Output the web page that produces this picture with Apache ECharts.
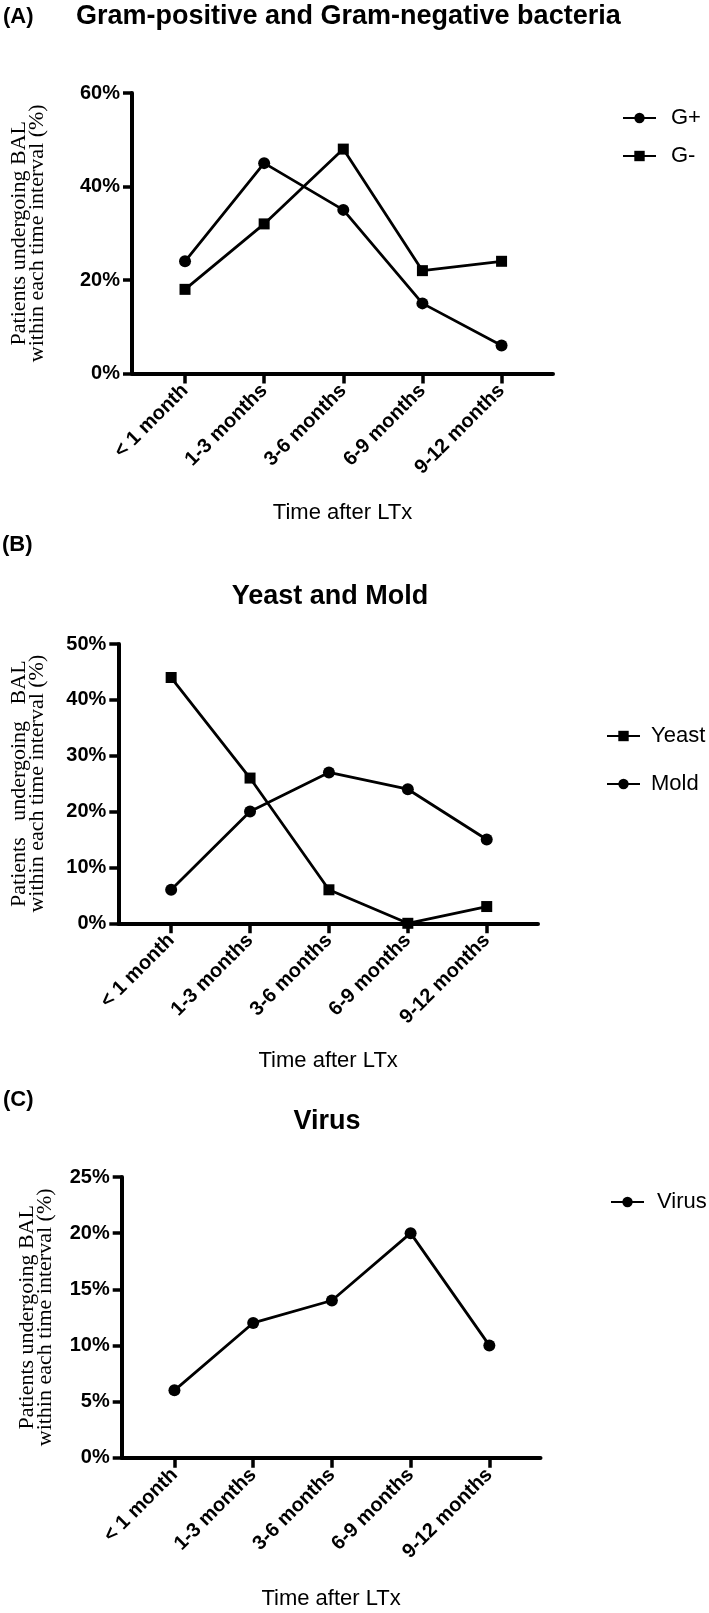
<!DOCTYPE html>
<html>
<head>
<meta charset="utf-8">
<script src="https://cdn.jsdelivr.net/npm/echarts@6/dist/echarts.min.js"></script>
<style>
html,body{margin:0;padding:0;background:#fff;}
#c{width:709px;height:1613px;}
</style>
</head>
<body>
<div id="c"></div>
<script>
const categories = ['< 1 month', '1-3 months', '3-6 months', '6-9 months', '9-12 months'];
const gPositive = [24, 45, 35, 15, 6];
const gNegative = [18, 32, 48, 22, 24];
const yeast = [44, 26, 6, 0, 3];
const mold = [6, 20, 27, 24, 15];
const virus = [6, 12, 14, 20, 10];
const yMaxA = 60, yStepA = 20;
const yMaxB = 50, yStepB = 10;
const yMaxC = 25, yStepC = 5;
const xAxisTitle = 'Time after LTx';
const yAxisTitleA = 'Patients undergoing BAL\nwithin each time interval (%)';
const yAxisTitleB = 'Patients   undergoing   BAL\nwithin each time interval (%)';

const SANS = '"Liberation Sans", Arial, sans-serif';
const SERIF = '"Liberation Serif", "Times New Roman", serif';
const catIdx = categories.map((c, i) => i);
const toPts = arr => arr.map((v, i) => [i, v]);

function xAxis(g, gap) {
  return {
    type: 'value', gridIndex: g, min: -0.67, max: 4.65,
    axisLine: { show: true, onZero: false, lineStyle: { color: '#000', width: 4 } },
    axisTick: { show: true, customValues: catIdx, length: 10, lineStyle: { color: '#000', width: 3.5 } },
    axisLabel: {
      customValues: catIdx, formatter: v => categories[Math.round(v)],
      rotate: 45, margin: 14, fontWeight: 'bold', fontSize: 20, color: '#000', fontFamily: SANS
    },
    splitLine: { show: false },
    name: xAxisTitle, nameLocation: 'middle', nameGap: gap,
    nameTextStyle: { fontSize: 22, color: '#000', fontFamily: SANS }
  };
}
function yAxis(g, max, step, title, gap) {
  return {
    type: 'value', gridIndex: g, min: 0, max: max, interval: step,
    axisLine: { show: true, onZero: false, lineStyle: { color: '#000', width: 4 } },
    axisTick: { show: true, length: 9, lineStyle: { color: '#000', width: 3.5 } },
    axisLabel: { formatter: '{value}%', margin: 12, fontWeight: 'bold', fontSize: 20, color: '#000', fontFamily: SANS },
    splitLine: { show: false },
    name: title, nameLocation: 'middle', nameRotate: 90, nameGap: gap,
    nameTextStyle: { fontSize: 22, lineHeight: 18, color: '#000', fontFamily: SERIF }
  };
}
function line(name, data, g, symbol) {
  return {
    type: 'line', name: name, xAxisIndex: g, yAxisIndex: g, data: toPts(data),
    symbol: symbol, symbolSize: symbol === 'rect' ? 11 : 12, showSymbol: true,
    lineStyle: { color: '#000', width: 2.8 }, itemStyle: { color: '#000' },
    animation: false
  };
}
function legend(names, left, top, gap, pad) {
  return {
    data: names, orient: 'vertical', left: left, top: top, itemGap: gap,
    itemWidth: 33, itemHeight: 13,
    textStyle: { fontSize: 22, lineHeight: 22, color: '#000', fontFamily: SANS, padding: [0, 0, 0, pad] }
  };
}
function text(t, x, y, size, bold, align) {
  return {
    type: 'text', x: x, y: y,
    style: { text: t, fontSize: size, fontWeight: bold ? 'bold' : 'normal', fontFamily: SANS, fill: '#000', align: align || 'left', verticalAlign: 'middle' }
  };
}

const chart = echarts.init(document.getElementById('c'), null, { renderer: 'canvas' });
chart.setOption({
  backgroundColor: '#fff',
  animation: false,
  grid: [
    { left: 131, top: 93, width: 422, height: 280.5 },
    { left: 118.3, top: 644, width: 419.7, height: 279.3 },
    { left: 121.7, top: 1177, width: 418.8, height: 280.7 }
  ],
  xAxis: [xAxis(0, 128), xAxis(1, 127), xAxis(2, 130)],
  yAxis: [
    yAxis(0, yMaxA, yStepA, yAxisTitleA, 86),
    yAxis(1, yMaxB, yStepB, yAxisTitleB, 72),
    yAxis(2, yMaxC, yStepC, yAxisTitleA, 67)
  ],
  legend: [
    legend(['G+', 'G-'], 617, 102, 16, 10),
    legend(['Yeast', 'Mold'], 601, 720, 26, 6),
    legend(['Virus'], 605, 1186, 16, 8)
  ],
  series: [
    line('G+', gPositive, 0, 'circle'),
    line('G-', gNegative, 0, 'rect'),
    line('Yeast', yeast, 1, 'rect'),
    line('Mold', mold, 1, 'circle'),
    line('Virus', virus, 2, 'circle')
  ],
  graphic: [
    text('(A)', 3, 17, 22, true),
    text('Gram-positive and Gram-negative bacteria', 76, 17, 27, true),
    text('(B)', 2, 545, 22, true),
    text('Yeast and Mold', 330, 597, 27, true, 'center'),
    text('(C)', 3, 1100, 22, true),
    text('Virus', 327, 1122, 27, true, 'center')
  ]
});
</script>
</body>
</html>
